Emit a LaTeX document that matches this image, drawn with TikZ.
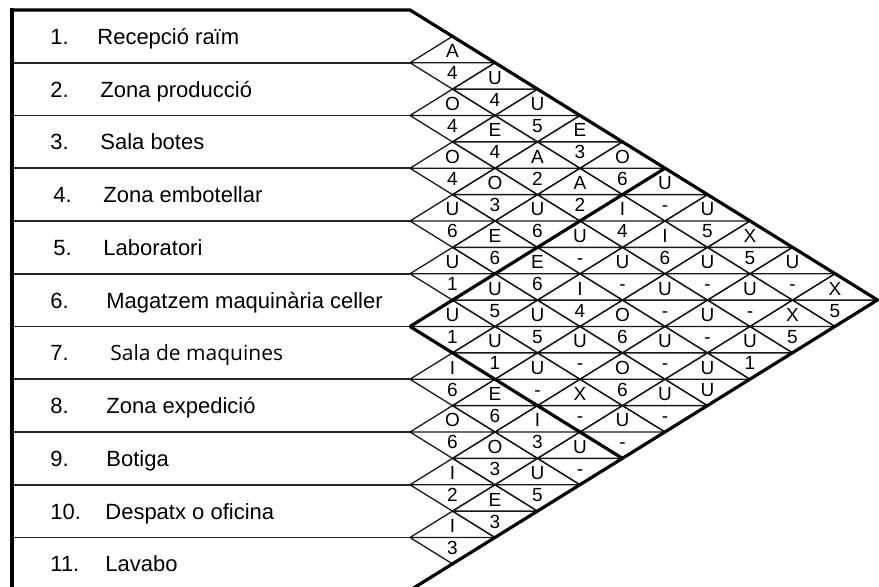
\documentclass[tikz,border=0pt]{standalone}
\usepackage{fontspec}
\setmainfont{Liberation Sans}
\newfontfamily\thinfont{Open Sans}
\usepackage{tikz}
\usetikzlibrary{positioning,calc}

\begin{document}
\begin{tikzpicture}[x=0.5pt,y=-0.5pt,
area/.style={font=\fontsize{11}{13}\selectfont,inner sep=0pt,anchor=base west},
cell/.style={font=\fontsize{9.5}{11}\selectfont,inner sep=0pt,anchor=base},
thin/.style={line width=0.65pt,black!90},
sep/.style={line width=0.8pt,black!85},
frame/.style={line width=1.6pt,line join=miter}]
\useasboundingbox (0,0) rectangle (879,587);
\fill[white] (0,0) rectangle (879,587);
\foreach \n in {1,...,10}
  \draw[sep] (12,{10+52.75*\n}) -- (410,{10+52.75*\n});
\foreach \i/\j/\a/\b in {1/2/A/4,2/3/O/4,3/4/O/4,4/5/U/6,5/6/U/1,6/7/U/1,7/8/I/6,8/9/O/6,9/10/I/2,10/11/I/3,
  1/3/U/4,2/4/E/4,3/5/O/3,4/6/E/6,5/7/U/5,6/8/U/1,7/9/E/6,8/10/O/3,9/11/E/3,
  1/4/U/5,2/5/A/2,3/6/U/6,4/7/E/6,5/8/U/5,6/9/U/-,7/10/I/3,8/11/U/5,
  1/5/E/3,2/6/A/2,3/7/U/-,4/8/I/4,5/9/U/-,6/10/X/-,7/11/U/-,
  1/6/O/6,2/7/I/4,3/8/U/-,4/9/O/6,5/10/O/6,6/11/U/-,
  1/7/U/-,2/8/I/6,3/9/U/-,4/10/U/-,5/11/U/-,
  1/8/U/5,2/9/U/-,3/10/U/-,4/11/U/U,
  1/9/X/5,2/10/U/-,3/11/U/1,
  1/10/U/-,2/11/X/5,
  1/11/X/5}{
  \pgfmathsetmacro\cx{410+42.5*(\j-\i)}
  \pgfmathsetmacro\cy{10+26.375*(\i+\j-1)}
  \draw[thin] ({\cx-42.5},\cy) -- (\cx,{\cy-26.375}) -- ({\cx+42.5},\cy) -- (\cx,{\cy+26.375}) -- cycle
    ({\cx-42.5},\cy) -- ({\cx+42.5},\cy);
  \node[cell] (a\i-\j) at (\cx,{\cy-5}) {\a};
  \node[cell] (b\i-\j) at (\cx,{\cy+17}) {\b};
}
\foreach \r/\nx/\tx/\t in {1/50/97/{Recepció raïm},2/50/100/{Zona producció},3/50/100/{Sala botes},
  4/53/103/{Zona embotellar},5/53/103/{Laboratori},6/50/106/{Magatzem maquinària celler},
  8/50/106/{Zona expedició},9/50/106/{Botiga},10/50/105/{Despatx o oficina},11/50/105/{Lavabo}}{
  \node[area] (n\r) at (\nx,{10+52.75*(\r-0.5)+8}) {\r.};
  \node[area] (t\r) at (\tx,{10+52.75*(\r-0.5)+8}) {\t};
}
\node[area] (n7) at (50,{10+52.75*6.5+8}) {7.};
\node[area,font=\thinfont\fontsize{10.5}{13}\selectfont] (t7) at (110,{10+52.75*6.5+8}) {Sala de maquines};
\coordinate (pivot) at (410,326.5);
\draw[frame] (12,10) -- (410,10) -- (877.5,300) -- (410,590.25) -- (12,590.25) -- cycle;
\draw[line width=2pt] (12,8) -- (12,592);
\draw[frame] (pivot) -- (665,168.25);
\draw[frame] (pivot) -- (622.5,458.4);
\end{tikzpicture}
\end{document}
